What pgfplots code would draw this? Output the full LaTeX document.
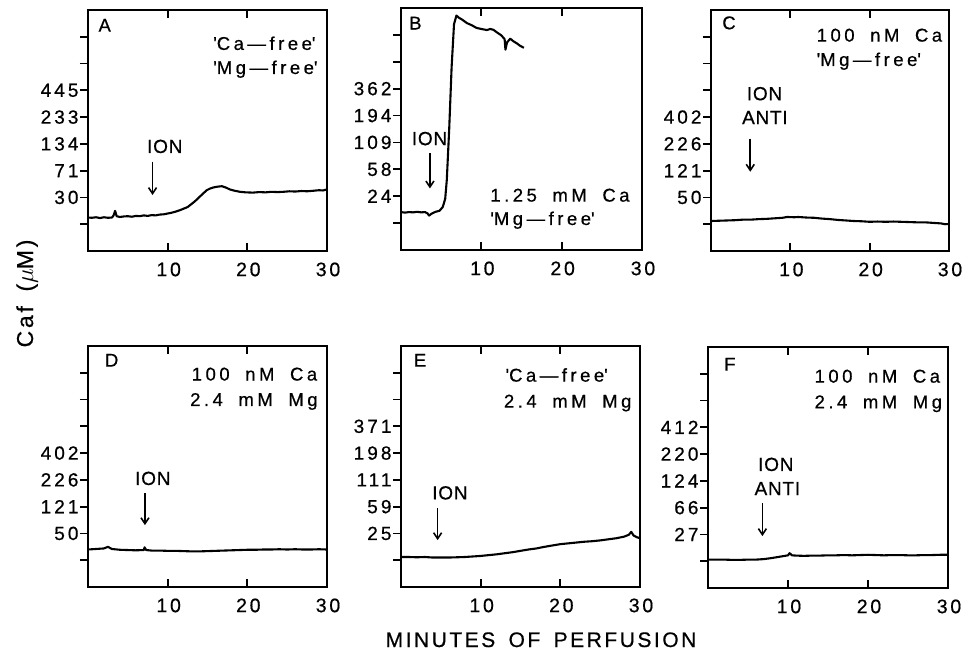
\documentclass[border=0pt]{standalone}
\usepackage{fontspec}
\setmainfont{Liberation Sans}[LetterSpace=12, WordSpace=1.6, FakeBold=0.6]
\newfontfamily\annfont{Liberation Sans}[LetterSpace=19, WordSpace=1.8, FakeBold=0.6]
\newfontfamily\ionfont{Liberation Sans}[LetterSpace=4, FakeBold=0.6]
\newfontfamily\ytickfont{Liberation Sans}[LetterSpace=16, FakeBold=0.6]
\newfontfamily\xtickfont{Liberation Sans}[LetterSpace=14, FakeBold=0.6]
\usepackage{pgfplots}
\pgfplotsset{compat=1.18}
\usetikzlibrary{arrows.meta}
\newcommand{\q}{\textquotesingle}
\pgfplotsset{panel/.style={
  scale only axis, width=239pt, height=241pt, anchor=south west,
  xmin=0, xmax=30, ymin=0, ymax=9,
  xtick={10,20,30}, xticklabels={10,20,30},
  ytick={1,2,3,4,5,6,7,8},
  xtick pos=both, ytick pos=left,
  xtick align=inside, ytick align=outside,
  major tick length=8pt,
  axis line style={line width=2.3pt},
  major tick style={black, line width=1.8pt},
  yticklabel style={font=\ytickfont\fontsize{19}{20}\selectfont, xshift=2pt},
  xticklabel style={font=\xtickfont\fontsize{19.5}{20}\selectfont, yshift=-8pt, xshift=1pt},
  clip=false,
},
trace/.style={black, line width=2.1pt, no marks, line join=round},
}
\tikzset{
ann/.style={font=\annfont\fontsize{18.5}{20}\selectfont, anchor=base west, inner sep=0pt},
ion/.style={font=\ionfont\fontsize{19}{21}\selectfont, anchor=base west, inner sep=0pt},
arr/.style={line width=1.6pt, -{Straight Barb[length=6pt,width=8pt]}},
}
\begin{document}
\begin{tikzpicture}[x=1pt,y=1pt]
\useasboundingbox (0,0) rectangle (962,654);
% Panel A
\begin{axis}[panel, at={(88pt,403pt)}, yticklabels={,30,71,134,233,445,,}]
\addplot[trace] coordinates {(0,1.25) (0.5,1.24) (1,1.26) (1.5,1.23) (2,1.26) (2.5,1.24) (3,1.25) (3.2,1.32) (3.4,1.5) (3.6,1.3) (4,1.27) (4.5,1.29) (5,1.3) (5.5,1.28) (6,1.31) (6.5,1.3) (7,1.33) (7.5,1.31) (8,1.34) (8.5,1.33) (9,1.36) (9.5,1.37) (10,1.4) (10.5,1.43) (11,1.47) (11.5,1.52) (12,1.58) (12.5,1.64) (12.8,1.71) (13.4,1.85) (14,2.02) (14.5,2.16) (14.9,2.27) (15.3,2.33) (15.7,2.37) (16.2,2.4) (16.8,2.42) (17.3,2.37) (17.8,2.3) (18.4,2.25) (19.1,2.21) (19.8,2.19) (20.7,2.18) (21.5,2.2) (22.3,2.19) (23,2.21) (23.8,2.2) (24.5,2.21) (25.3,2.23) (26,2.22) (26.8,2.24) (27.5,2.23) (28.3,2.25) (29,2.27) (29.5,2.26) (30,2.3)};
\node[ann] at (axis cs:1.3,8.19) {A};
\node[ann] at (axis cs:15.7,7.51) {\q Ca—free\q};
\node[ann] at (axis cs:15.7,6.61) {\q Mg—free\q};
\node[ion] at (axis cs:7.4,3.66) {ION};
\draw[arr] (axis cs:8.1,3.34) -- (axis cs:8.1,2.09);
\end{axis}
% Panel B
\begin{axis}[panel, at={(401pt,404pt)}, width=241pt, height=242pt, yticklabels={,24,58,109,194,362,,}]
\addplot[trace] coordinates {(0,1.41) (0.5,1.39) (1,1.41) (1.5,1.4) (2,1.42) (2.5,1.4) (3,1.41) (3.3,1.36) (3.5,1.28) (3.8,1.35) (4.3,1.42) (4.8,1.46) (5.2,1.6) (5.5,1.9) (5.7,2.6) (6.0,4.5) (6.3,6.8) (6.6,8.4) (6.9,8.72) (7.2,8.64) (7.6,8.57) (8.2,8.44) (8.8,8.36) (9.4,8.26) (10,8.22) (10.7,8.18) (11.1,8.22) (11.5,8.19) (12,8.08) (12.5,7.98) (12.9,7.84) (13.0,7.45) (13.2,7.72) (13.6,7.86) (14.0,7.76) (14.4,7.69) (14.8,7.6) (15.3,7.52)};
\node[ann] at (axis cs:1.0,8.2) {B};
\node[ann] at (axis cs:11.1,1.8) {1.25 mM Ca};
\node[ann] at (axis cs:11.1,0.93) {\q Mg—free\q};
\node[ion] at (axis cs:1.33,3.9) {ION};
\draw[arr] (axis cs:3.6,3.6) -- (axis cs:3.6,2.29);
\end{axis}
% Panel C
\begin{axis}[panel, at={(711pt,403pt)}, width=238pt, yticklabels={,50,121,226,402,,,}]
\addplot[trace] coordinates {(0,1.12) (1,1.13) (2,1.14) (3,1.15) (4,1.17) (5,1.17) (6,1.19) (7,1.2) (8,1.22) (9,1.24) (9.6,1.27) (10.5,1.26) (11,1.27) (12,1.25) (13,1.24) (14,1.21) (15,1.19) (16,1.16) (17,1.14) (18,1.12) (19,1.11) (20,1.09) (21,1.1) (22,1.09) (23,1.1) (24,1.09) (25,1.08) (26,1.07) (27,1.07) (28,1.05) (29,1.03) (29.5,1.0) (30,1.01)};
\node[ann] at (axis cs:1.4,8.28) {C};
\node[ann] at (axis cs:13.3,7.82) {100 nM Ca};
\node[ann] at (axis cs:13.3,6.91) {\q Mg—free\q};
\node[ion] at (axis cs:4.5,5.63) {ION};
\node[ion] at (axis cs:3.9,4.74) {ANTI};
\draw[arr] (axis cs:4.95,4.2) -- (axis cs:4.95,2.96);
\end{axis}
% Panel D
\begin{axis}[panel, at={(88pt,67pt)}, yticklabels={,50,121,226,402,,,}]
\addplot[trace] coordinates {(0,1.4) (1,1.42) (2,1.44) (2.5,1.5) (3,1.42) (4,1.39) (5,1.38) (6,1.37) (7,1.38) (7.1,1.48) (7.3,1.38) (8,1.36) (9,1.36) (10,1.35) (11,1.35) (12,1.34) (13,1.33) (14,1.33) (15,1.34) (16,1.35) (17,1.36) (18,1.37) (19,1.38) (20,1.39) (21,1.39) (22,1.4) (23,1.4) (24,1.41) (25,1.4) (26,1.41) (27,1.4) (28,1.4) (29,1.41) (30,1.4)};
\node[ann] at (axis cs:2.1,8.23) {D};
\node[ann] at (axis cs:13.0,7.71) {100 nM Ca};
\node[ann] at (axis cs:12.8,6.76) {2.4 mM Mg};
\node[ion] at (axis cs:5.9,3.81) {ION};
\draw[arr] (axis cs:7.15,3.5) -- (axis cs:7.15,2.31);
\end{axis}
% Panel E
\begin{axis}[panel, at={(401pt,67pt)}, yticklabels={,25,59,111,198,371,,}]
\addplot[trace] coordinates {(0,1.12) (1,1.12) (2,1.11) (3,1.12) (4,1.1) (5,1.1) (6,1.1) (7,1.11) (8,1.12) (9,1.14) (10,1.16) (11,1.19) (12,1.22) (13,1.26) (14,1.3) (15,1.35) (16,1.4) (17,1.44) (18,1.5) (19,1.55) (20,1.6) (21,1.63) (22,1.66) (23,1.69) (24,1.71) (25,1.74) (26,1.78) (27,1.82) (28,1.88) (28.6,1.95) (28.9,2.06) (29.2,1.92) (29.6,1.86) (30,1.82)};
\node[ann] at (axis cs:1.6,8.23) {E};
\node[ann] at (axis cs:13.1,7.67) {\q Ca—free\q};
\node[ann] at (axis cs:12.9,6.7) {2.4 mM Mg};
\node[ion] at (axis cs:3.9,3.27) {ION};
\draw[arr] (axis cs:4.6,2.94) -- (axis cs:4.6,1.75);
\end{axis}
% Panel F
\begin{axis}[panel, at={(708pt,66pt)}, width=240pt, yticklabels={,27,66,124,220,412,,}]
\addplot[trace] coordinates {(0,1.06) (1,1.06) (2,1.06) (3,1.05) (4,1.05) (5,1.06) (6,1.06) (7,1.08) (8,1.12) (9,1.17) (10,1.22) (10.2,1.3) (10.5,1.22) (11,1.21) (12,1.2) (13,1.21) (14,1.21) (15,1.22) (16,1.22) (17,1.23) (18,1.22) (19,1.23) (20,1.24) (21,1.23) (22,1.22) (23,1.23) (24,1.23) (25,1.22) (26,1.22) (27,1.23) (28,1.23) (29,1.24) (30,1.24)};
\node[ann] at (axis cs:2.0,8.12) {F};
\node[ann] at (axis cs:13.3,7.67) {100 nM Ca};
\node[ann] at (axis cs:13.3,6.71) {2.4 mM Mg};
\node[ion] at (axis cs:6.25,4.37) {ION};
\node[ion] at (axis cs:5.8,3.47) {ANTI};
\draw[arr] (axis cs:6.8,3.16) -- (axis cs:6.8,1.94);
\end{axis}
\node[rotate=90, anchor=base, font=\fontsize{23}{25}\selectfont] at (33,360.5) {Caf ($\mu$M)};
\node[font=\fontsize{21}{23}\selectfont, anchor=base] at (541,7) {MINUTES OF PERFUSION};
\end{tikzpicture}
\end{document}
